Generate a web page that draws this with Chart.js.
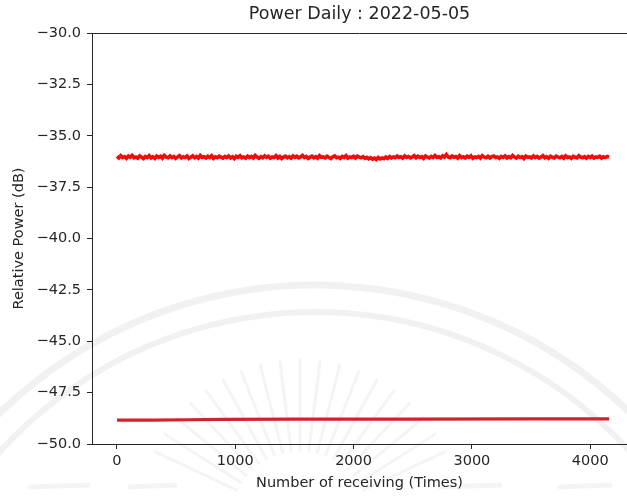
<!DOCTYPE html>
<html>
<head>
<meta charset="utf-8">
<script src="https://cdn.jsdelivr.net/npm/chart.js@4/dist/chart.umd.min.js"></script>
<style>
  html, body { margin: 0; padding: 0; background: #ffffff; }
  #chart { display: block; }
</style>
</head>
<body>
<canvas id="chart" width="627" height="496"></canvas>
<script>
// Daily relative power log, 2022-05-05
const chartTitle = 'Power Daily : 2022-05-05';
const xAxisLabel = 'Number of receiving (Times)';
const yAxisLabel = 'Relative Power (dB)';

// receiving count between logged samples of the upper trace
const sampleStep = 16;

// upper trace (dB), one value per logged sample
const upperPower = [
  -36.00,-36.08,-35.97,-36.06,-36.02,-36.10,-35.99,-36.05,-35.96,-36.07,
  -36.03,-36.09,-35.98,-36.04,-36.11,-36.01,-36.06,-35.97,-36.08,-36.02,
  -36.10,-35.99,-36.05,-36.00,-36.09,-35.96,-36.04,-36.07,-35.98,-36.06,
  -36.01,-36.10,-36.03,-35.97,-36.08,-36.02,-36.06,-35.99,-36.11,-36.04,
  -35.98,-36.07,-36.01,-36.09,-35.96,-36.05,-36.02,-36.08,-36.00,-36.06,
  -35.97,-36.10,-36.03,-36.07,-35.99,-36.04,-36.09,-36.01,-36.06,-35.98,
  -36.08,-36.02,-36.11,-36.00,-36.05,-35.97,-36.07,-36.03,-36.09,-35.99,
  -36.06,-36.01,-36.08,-35.96,-36.04,-36.10,-36.02,-36.07,-35.98,-36.05,
  -36.00,-36.09,-36.03,-36.06,-35.97,-36.08,-36.01,-36.11,-36.04,-35.99,
  -36.07,-36.02,-36.09,-35.98,-36.05,-36.00,-36.08,-36.03,-35.96,-36.06,
  -36.01,-36.10,-36.04,-35.99,-36.07,-36.02,-36.09,-35.97,-36.05,-36.03,
  -36.08,-36.00,-36.06,-36.11,-36.02,-35.98,-36.07,-36.04,-36.10,-36.01,
  -36.05,-35.97,-36.09,-36.03,-36.06,-36.00,-36.08,-35.99,-36.04,-36.07,
  -36.02,-36.10,-36.05,-36.12,-36.07,-36.14,-36.09,-36.16,-36.06,-36.13,
  -36.08,-36.12,-36.04,-36.10,-36.01,-36.08,-36.03,-36.07,-35.99,-36.06,
  -36.02,-36.09,-35.98,-36.05,-36.01,-36.08,-36.03,-35.97,-36.07,-36.00,
  -36.06,-36.02,-36.10,-35.99,-36.04,-36.08,-36.01,-36.06,-35.96,-36.05,
  -36.02,-36.08,-35.98,-36.04,-35.92,-36.03,-36.07,-35.99,-36.05,-36.01,
  -36.09,-35.97,-36.06,-36.02,-36.08,-36.00,-36.05,-35.98,-36.10,-36.03,
  -36.06,-36.01,-36.09,-35.97,-36.04,-36.07,-36.00,-36.08,-36.02,-35.99,
  -36.06,-36.03,-36.10,-36.01,-36.05,-35.98,-36.08,-36.02,-36.07,-35.96,
  -36.04,-36.09,-36.00,-36.06,-36.02,-36.11,-35.99,-36.05,-36.03,-36.08,
  -35.98,-36.06,-36.01,-36.09,-36.04,-35.97,-36.07,-36.02,-36.10,-36.00,
  -36.05,-36.08,-35.99,-36.04,-36.07,-36.01,-36.09,-35.98,-36.06,-36.03,
  -36.10,-36.00,-36.05,-36.08,-35.97,-36.04,-36.07,-36.02,-36.09,-36.01,
  -36.06,-35.99,-36.08,-36.03,-36.05,-36.00,-36.09,-36.02,-36.06,-36.01,
  -36.04
];

// lower trace: receiving count and power (dB)
const lowerCount = [0, 300, 600, 900, 1500, 2500, 3500, 4160];
const lowerPower = [-48.84, -48.84, -48.82, -48.80, -48.79, -48.79, -48.78, -48.78];

const xTicks = [0, 1000, 2000, 3000, 4000];
const yTicks = [-50.0, -47.5, -45.0, -42.5, -40.0, -37.5, -35.0, -32.5, -30.0];

const upperPoints = upperPower.map((v, i) => ({ x: i * sampleStep, y: v }));
const lowerPoints = lowerCount.map((c, i) => ({ x: c, y: lowerPower[i] }));

const FONT = "'DejaVu Sans', 'Liberation Sans', sans-serif";
const INK = '#262626';

// tick marks only at the listed ticks
const tickInk = list => ctx =>
  (ctx.tick && list.includes(ctx.tick.value)) ? INK : 'rgba(0,0,0,0)';

// white page with the faint emblem behind the plot
const backdrop = {
  id: 'backdrop',
  beforeDraw(chart) {
    const ctx = chart.ctx;
    ctx.save();
    ctx.fillStyle = '#ffffff';
    ctx.fillRect(0, 0, chart.width, chart.height);
    ctx.strokeStyle = 'rgba(0,0,0,0.055)';
    ctx.lineCap = 'round';
    // two concentric arcs
    ctx.lineWidth = 7;
    ctx.beginPath();
    ctx.arc(315, 737, 452, Math.PI * 1.02, Math.PI * 1.98);
    ctx.stroke();
    ctx.lineWidth = 6;
    ctx.beginPath();
    ctx.arc(315, 737, 425, Math.PI * 1.04, Math.PI * 1.96);
    ctx.stroke();
    // sunburst rays
    ctx.strokeStyle = 'rgba(0,0,0,0.045)';
    const cx = 300, cy = 520;
    for (let k = 0; k < 19; k++) {
      const a = Math.PI * (1.14 + k * 0.04);
      const r1 = 70, r2 = 160;
      ctx.lineWidth = 3;
      ctx.beginPath();
      ctx.moveTo(cx + Math.cos(a) * r1, cy + Math.sin(a) * r1);
      ctx.lineTo(cx + Math.cos(a) * r2, cy + Math.sin(a) * r2);
      ctx.stroke();
    }
    // base strokes
    ctx.lineWidth = 5;
    [[30, 88], [130, 175], [440, 500], [560, 610]].forEach(([a, b]) => {
      ctx.beginPath();
      ctx.moveTo(a, 487);
      ctx.lineTo(b, 485);
      ctx.stroke();
    });
    ctx.restore();
  }
};

// top spine of the axes box
const topSpine = {
  id: 'topSpine',
  afterDraw(chart) {
    const { ctx, chartArea } = chart;
    ctx.save();
    ctx.strokeStyle = INK;
    ctx.lineWidth = 1;
    ctx.beginPath();
    ctx.moveTo(chartArea.left, chartArea.top + 0.5);
    ctx.lineTo(chartArea.right, chartArea.top + 0.5);
    ctx.stroke();
    ctx.restore();
  }
};

new Chart(document.getElementById('chart'), {
  type: 'line',
  data: {
    datasets: [
      {
        data: upperPoints,
        borderColor: '#f50a0a',
        borderWidth: 3.6,
        pointRadius: 0,
        tension: 0,
        fill: false
      },
      {
        data: lowerPoints,
        borderColor: '#d2222c',
        borderWidth: 3.2,
        pointRadius: 0,
        tension: 0,
        fill: false
      }
    ]
  },
  options: {
    responsive: false,
    animation: false,
    devicePixelRatio: 1,
    layout: { padding: { left: 0, right: 0, top: 0, bottom: 0 } },
    plugins: {
      legend: { display: false },
      tooltip: { enabled: false },
      title: {
        display: true,
        text: chartTitle,
        fullSize: false,
        color: INK,
        font: { family: FONT, size: 17.5, weight: 'normal' },
        padding: { top: 4, bottom: 8 }
      }
    },
    scales: {
      x: {
        type: 'linear',
        min: -211,
        max: 4311,
        afterBuildTicks(scale) { scale.ticks = xTicks.map(v => ({ value: v })); },
        afterFit(scale) { scale.height = 52; },
        ticks: {
          color: INK,
          font: { family: FONT, size: 14.5 },
          padding: 4,
          maxRotation: 0,
          autoSkip: false,
          callback: v => String(v)
        },
        grid: { display: true, drawOnChartArea: false, drawTicks: true, tickLength: 5, color: tickInk(xTicks) },
        border: { display: true, color: INK, width: 1 },
        title: {
          display: true,
          text: xAxisLabel,
          color: INK,
          font: { family: FONT, size: 14.5 },
          padding: { top: 0, bottom: 4 }
        }
      },
      y: {
        type: 'linear',
        min: -50,
        max: -30,
        afterBuildTicks(scale) { scale.ticks = yTicks.map(v => ({ value: v })); },
        afterFit(scale) { scale.width = 92; },
        ticks: {
          color: INK,
          font: { family: FONT, size: 14.5 },
          padding: 6,
          autoSkip: false,
          callback: v => v.toFixed(1).replace('-', '\u2212')
        },
        grid: { display: true, drawOnChartArea: false, drawTicks: true, tickLength: 5, color: tickInk(yTicks) },
        border: { display: true, color: INK, width: 1 },
        title: {
          display: true,
          text: yAxisLabel,
          color: INK,
          font: { family: FONT, size: 14.5 },
          padding: { top: 11, bottom: 0 }
        }
      }
    }
  },
  plugins: [backdrop, topSpine]
});
</script>
</body>
</html>
